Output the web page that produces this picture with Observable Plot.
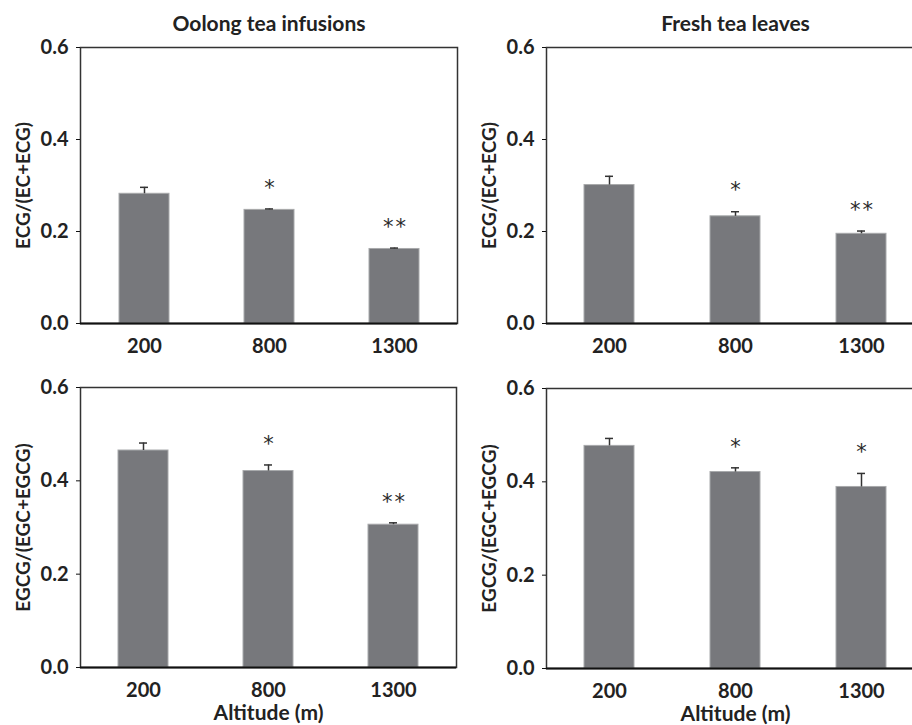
<!DOCTYPE html>
<html><head><meta charset="utf-8">
<script src="https://cdn.jsdelivr.net/npm/d3@7"></script>
<script src="https://cdn.jsdelivr.net/npm/@observablehq/plot@0.6"></script>
<style>
body{margin:0;background:#fff;overflow:hidden;}
#wrap{position:relative;width:912px;height:725px;overflow:hidden;background:#fff;}
.panel{position:absolute;}
</style></head><body><div id="wrap"></div>
<script>
const altitudes = ["200", "800", "1300"];
const infusionECG = [0.282, 0.247, 0.162];
const infusionECGErr = [0.014, 0.002, 0.002];
const infusionECGSig = ["", "*", "**"];
const leavesECG = [0.301, 0.233, 0.195];
const leavesECGErr = [0.019, 0.010, 0.006];
const leavesECGSig = ["", "*", "**"];
const infusionEGCG = [0.465, 0.421, 0.306];
const infusionEGCGErr = [0.016, 0.013, 0.004];
const infusionEGCGSig = ["", "*", "**"];
const leavesEGCG = [0.477, 0.421, 0.389];
const leavesEGCGErr = [0.016, 0.009, 0.029];
const leavesEGCGSig = ["", "*", "*"];
const yTicks = [0, 0.2, 0.4, 0.6];
const columnTitles = ["Oolong tea infusions", "Fresh tea leaves"];
const rowLabels = ["ECG/(EC+ECG)", "EGCG/(EGC+EGCG)"];
const xLabel = "Altitude (m)";

const FONT = "Lato, 'Open Sans', sans-serif";

function panel(cfg) {
  const data = altitudes.map((a, i) => ({alt: a, v: cfg.values[i], e: cfg.errs[i], s: cfg.sig[i]}));
  const marks = [
    Plot.barY(data, {x: "alt", y: "v", fill: "#77787c", stroke: "#a8a9ab", strokeWidth: 1}),
    Plot.ruleX(data, {x: "alt", y1: "v", y2: d => d.v + d.e, stroke: "#333", strokeWidth: 1.5}),
    Plot.tickY(data, {x: "alt", y: d => d.v + d.e, stroke: "#333", strokeWidth: 1.5, insetLeft: 21, insetRight: 21}),
    Plot.text(data, {x: "alt", y: d => d.v + d.e, text: d => d.s.split("").join("\u200A"), dy: -21, fontSize: 21, fontFamily: "DejaVu Sans", fontWeight: "normal", fill: "#2a2a2a", lineAnchor: "middle", textAnchor: "middle"}),
    Plot.frame({stroke: "#333", strokeWidth: 1.5}),
    Plot.ruleY([0], {stroke: "#111", strokeWidth: 2}),
    Plot.axisY({ticks: yTicks, tickFormat: d3.format(".1f"), tickSize: 4, tickPadding: 8, fontSize: 20, fontWeight: "bold", label: null, stroke: "#111"}),
    Plot.axisX({tickSize: 0, tickPadding: 15, fontSize: 20, fontWeight: "bold", label: null}),
    Plot.text([cfg.ylabel], {text: d => d, frameAnchor: "left", rotate: -90, dx: -57, fontSize: 19, fontWeight: "bold", textAnchor: "middle", lineAnchor: "middle", fill: "#222"})
  ];
  if (cfg.title) marks.push(Plot.text([cfg.title], {text: d => d, frameAnchor: "top", dy: -23, fontSize: 21, fontWeight: "bold", textAnchor: "middle", lineAnchor: "middle", fill: "#222"}));
  if (cfg.xlabel) marks.push(Plot.text([cfg.xlabel], {text: d => d, frameAnchor: "bottom", dy: 46, fontSize: 21, fontWeight: "bold", textAnchor: "middle", lineAnchor: "middle", fill: "#222"}));
  const svg = Plot.plot({
    width: cfg.width, height: cfg.height,
    marginLeft: cfg.ml, marginRight: cfg.mr, marginTop: cfg.mt, marginBottom: cfg.mb,
    x: {domain: altitudes, paddingInner: 0.6, paddingOuter: 0.3, axis: null},
    y: {domain: [0, 0.6], axis: null},
    style: {fontFamily: FONT, color: "#222", background: "transparent", overflow: "visible"},
    marks
  });
  svg.classList.add("panel");
  svg.style.left = cfg.left + "px";
  svg.style.top = cfg.top + "px";
  document.getElementById("wrap").appendChild(svg);
}

panel({left: 0, top: 0, width: 460, height: 360, ml: 80, mr: 3, mt: 47, mb: 37,
  values: infusionECG, errs: infusionECGErr, sig: infusionECGSig, title: columnTitles[0], ylabel: rowLabels[0]});
panel({left: 460, top: 0, width: 466, height: 360, ml: 86, mr: 2, mt: 47, mb: 37,
  values: leavesECG, errs: leavesECGErr, sig: leavesECGSig, title: columnTitles[1], ylabel: rowLabels[0]});
panel({left: 0, top: 360, width: 460, height: 365, ml: 80, mr: 4, mt: 27, mb: 58,
  values: infusionEGCG, errs: infusionEGCGErr, sig: infusionEGCGSig, ylabel: rowLabels[1], xlabel: xLabel});
panel({left: 460, top: 360, width: 466, height: 365, ml: 86, mr: 2, mt: 28, mb: 57,
  values: leavesEGCG, errs: leavesEGCGErr, sig: leavesEGCGSig, ylabel: rowLabels[1], xlabel: xLabel});
</script></body></html>
